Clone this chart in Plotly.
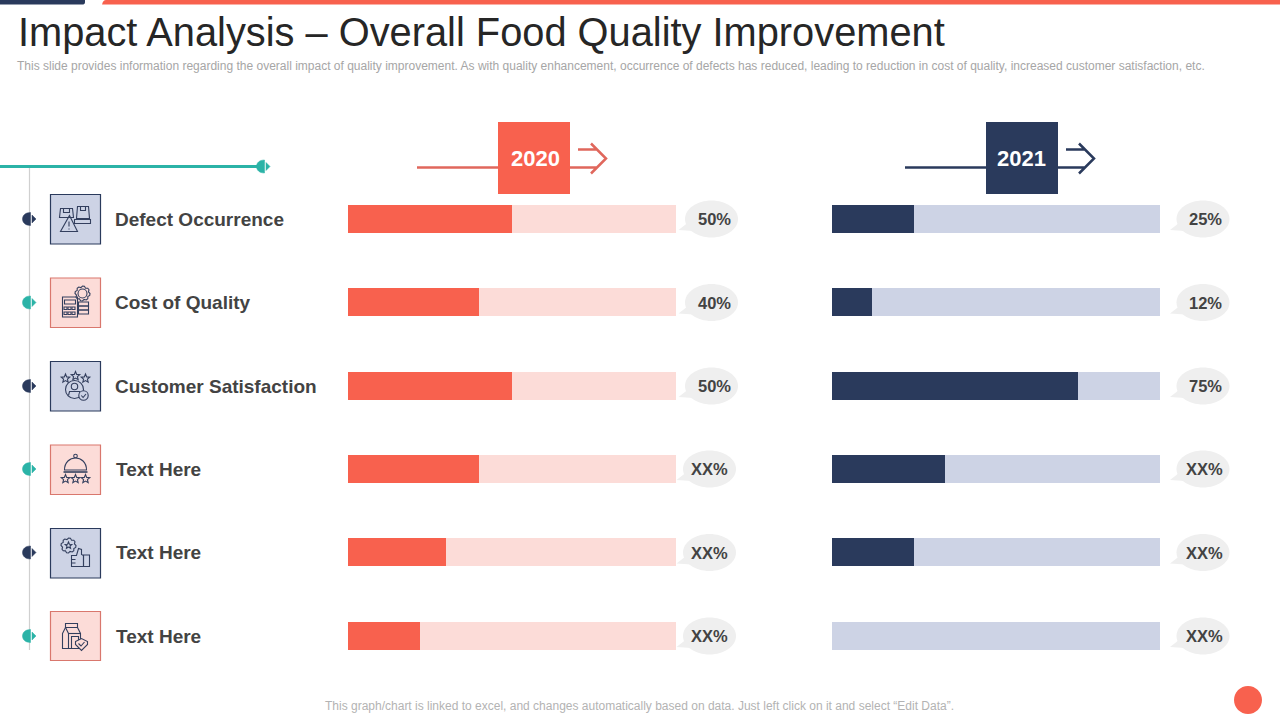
import math

import plotly.graph_objects as go

TITLE = "Impact Analysis – Overall Food Quality Improvement"
SUBTITLE = ("This slide provides information regarding the overall impact of quality improvement. "
            "As with quality enhancement, occurrence of defects has reduced, leading to reduction "
            "in cost of quality, increased customer satisfaction, etc.")
FOOTER = "This graph/chart is linked to excel, and changes automatically based on data. Just left click on it and select “Edit Data”."

categories = ["Defect Occurrence", "Cost of Quality", "Customer Satisfaction", "Text Here", "Text Here", "Text Here"]
rows = [0, 1, 2, 3, 4, 5]
full_scale = [100, 100, 100, 100, 100, 100]
values_2020 = [50, 40, 50, 40, 30, 22]
values_2021 = [25, 12.2, 75, 34.6, 25, 0]
labels_2020 = ["50%", "40%", "50%", "XX%", "XX%", "XX%"]
labels_2021 = ["25%", "12%", "75%", "XX%", "XX%", "XX%"]

CORAL = "#f8614e"
CORAL_PALE = "#fcdcd8"
NAVY = "#2a3a5c"
NAVY_PALE = "#cdd3e5"
TEAL = "#2bb3a7"
TEXT = "#434343"
ICON = "#333f5e"

BAR_HEIGHT = 28 / 83.4
W, H = 1280, 720
shapes = []


def add_path(path, fill="rgba(0,0,0,0)", color=ICON, width=1.1):
    shapes.append(dict(type="path", path=path, xref="x3", yref="y3", fillcolor=fill,
                       line=dict(color=color, width=width)))


def add_rect(x0, y0, x1, y1, fill, color=None, width=0):
    line = dict(color=color, width=width) if color else dict(width=0)
    shapes.append(dict(type="rect", x0=x0, y0=y0, x1=x1, y1=y1, xref="x3", yref="y3",
                       fillcolor=fill, line=line))


def poly(pts, ox=0, oy=0, close=False):
    s = "M" + " L".join(f"{x + ox:.2f},{y + oy:.2f}" for x, y in pts)
    return s + (" Z" if close else "")


def circ(cx, cy, rx, ry=None):
    ry = ry or rx
    k = 0.5523
    return (f"M{cx - rx:.2f},{cy:.2f} "
            f"C{cx - rx:.2f},{cy - k * ry:.2f} {cx - k * rx:.2f},{cy - ry:.2f} {cx:.2f},{cy - ry:.2f} "
            f"C{cx + k * rx:.2f},{cy - ry:.2f} {cx + rx:.2f},{cy - k * ry:.2f} {cx + rx:.2f},{cy:.2f} "
            f"C{cx + rx:.2f},{cy + k * ry:.2f} {cx + k * rx:.2f},{cy + ry:.2f} {cx:.2f},{cy + ry:.2f} "
            f"C{cx - k * rx:.2f},{cy + ry:.2f} {cx - rx:.2f},{cy + k * ry:.2f} {cx - rx:.2f},{cy:.2f} Z")


def star(cx, cy, r):
    pts = []
    for i in range(10):
        a = -math.pi / 2 + i * math.pi / 5
        rr = r if i % 2 == 0 else r * 0.45
        pts.append((cx + rr * math.cos(a), cy + rr * math.sin(a)))
    return poly(pts, close=True)


def gear(cx, cy, r):
    pts = []
    for i in range(24):
        a = i * math.pi / 12
        rr = r if i % 3 != 2 else r * 0.82
        pts.append((cx + rr * math.cos(a), cy + rr * math.sin(a)))
    return poly(pts, close=True)


def marker(cx, cy, color):
    # half disc with the little pointer on its right
    k = 0.5523
    r = 6.5
    add_path(f"M{cx + 1.5},{cy - r} C{cx - k * r},{cy - r} {cx - r},{cy - k * r} {cx - r},{cy} "
             f"C{cx - r},{cy + k * r} {cx - k * r},{cy + r} {cx + 1.5},{cy + r} Z",
             fill=color, color=color, width=0.5)
    add_path(poly([(cx + 3, cy - 4), (cx + 7, cy), (cx + 3, cy + 4)], close=True),
             fill=color, color=color, width=0.5)


def arrow(dx, color):
    add_path(f"M{417 + dx},167.5 L{498 + dx},167.5", color=color, width=2.5)
    add_path(f"M{578 + dx},149.5 L{597 + dx},149.5 M{591 + dx},143.5 L{606 + dx},158.5 L{591 + dx},173.5 "
             f"M{570 + dx},167.5 L{597 + dx},167.5", color=color, width=2.5)


def bubble(cx, cy, fill="#efefef"):
    add_path(poly([(cx - 24, cy + 4), (cx - 33, cy + 11), (cx - 18, cy + 12)], close=True),
             fill=fill, color=fill, width=0)
    add_path(circ(cx, cy, 26.5, 18.5), fill=fill, color=fill, width=0)


def icon_defect(ox, oy):
    add_path(poly([(10, 14), (22, 14), (23, 23), (9, 23)], ox, oy, True))
    add_path(poly([(13, 14), (13, 18), (19, 18), (19, 14)], ox, oy))
    add_path(poly([(27, 12), (38, 12), (39, 24), (26, 24)], ox, oy, True))
    add_path(poly([(30, 12), (30, 16), (35, 16), (35, 12)], ox, oy))
    add_path(poly([(24, 25), (40, 25), (40, 29), (24, 29)], ox, oy, True))
    add_path(poly([(19, 21), (27, 37), (10, 37)], ox, oy, True))
    add_path(poly([(18.5, 27), (18.5, 32)], ox, oy) + " " + poly([(18.5, 34), (18.5, 35)], ox, oy))


def icon_cost(ox, oy):
    add_path(poly([(12, 19), (27, 19), (27, 39), (12, 39)], ox, oy, True))
    add_path(poly([(14, 22), (25, 22), (25, 26), (14, 26)], ox, oy, True))
    for gx in (15, 19, 23):
        for gy in (29, 34):
            add_path(poly([(gx - 1.5, gy), (gx + 1.5, gy), (gx + 1.5, gy + 2.5), (gx - 1.5, gy + 2.5)], ox, oy, True))
    add_path(gear(ox + 32, oy + 15.5, 7.5))
    add_path(circ(ox + 32, oy + 15.5, 4.5))
    for gy in (24, 28, 32):
        add_path(poly([(28, gy), (38, gy), (38, gy + 4), (28, gy + 4)], ox, oy, True))


def icon_customer(ox, oy):
    for sx, sy in ((15, 17), (25, 14.5), (35, 17)):
        add_path(star(ox + sx, oy + sy, 4.5))
    add_path(circ(ox + 24, oy + 28, 9))
    add_path(circ(ox + 24, oy + 25, 3.2))
    add_path(poly([(18, 34), (19, 30), (29, 30), (30, 34)], ox, oy))
    add_path(circ(ox + 33, oy + 34, 4.7), fill=NAVY_PALE)
    add_path(poly([(30.8, 34), (32.6, 36), (35.5, 32.5)], ox, oy))


def icon_cloche(ox, oy):
    add_path(f"M{ox + 14},{oy + 25} C{ox + 14},{oy + 9} {ox + 36},{oy + 9} {ox + 36},{oy + 25} Z")
    add_path(circ(ox + 25, oy + 11, 1.8))
    add_path(poly([(13, 27), (37, 27)], ox, oy), width=1.6)
    for sx in (15, 25, 35):
        add_path(star(ox + sx, oy + 34, 4.5))


def icon_thumb(ox, oy):
    add_path(gear(ox + 18, oy + 17, 7.5))
    add_path(star(ox + 18, oy + 17, 3.5))
    add_path(poly([(21, 27), (26, 27), (28, 20), (31, 21), (31, 26), (33, 27), (33, 38), (21, 38)], ox, oy, True))
    add_path(poly([(21, 31), (25, 31)], ox, oy) + " " + poly([(21, 34.5), (25, 34.5)], ox, oy))
    add_path(poly([(33, 26.5), (39, 26.5), (39, 38), (33, 38)], ox, oy, True))


def icon_carton(ox, oy):
    add_path(poly([(15, 12), (27, 12), (27, 16), (15, 16)], ox, oy, True))
    add_path(poly([(12, 22), (15, 16), (27, 16), (30, 22), (30, 37), (12, 37)], ox, oy, True))
    add_path(poly([(15, 16), (18, 22), (18, 37)], ox, oy))
    add_path(poly([(18, 22), (30, 22)], ox, oy))
    add_path(poly([(21, 25), (28, 25), (28, 37), (21, 37)], ox, oy, True))
    add_path(poly([(25, 30), (31, 27), (37, 30), (37, 33), (31, 39), (25, 33)], ox, oy, True), fill=CORAL_PALE)
    add_path(poly([(28, 32), (30.5, 34.5), (34, 30.5)], ox, oy))


fig = go.Figure()

# bars, drawn on the two value axes
fig.add_trace(go.Bar(x=full_scale, y=rows, orientation="h", width=BAR_HEIGHT, marker_color=CORAL_PALE,
                     marker_line_width=0, xaxis="x", yaxis="y", hoverinfo="skip", showlegend=False))
fig.add_trace(go.Bar(x=values_2020, y=rows, orientation="h", width=BAR_HEIGHT, marker_color=CORAL,
                     marker_line_width=0, xaxis="x", yaxis="y", name="2020", showlegend=False))
fig.add_trace(go.Bar(x=full_scale, y=rows, orientation="h", width=BAR_HEIGHT, marker_color=NAVY_PALE,
                     marker_line_width=0, xaxis="x2", yaxis="y2", hoverinfo="skip", showlegend=False))
fig.add_trace(go.Bar(x=values_2021, y=rows, orientation="h", width=BAR_HEIGHT, marker_color=NAVY,
                     marker_line_width=0, xaxis="x2", yaxis="y2", name="2021", showlegend=False))
# pixel canvas for the slide furniture
fig.add_trace(go.Scatter(x=[0, W], y=[0, H], mode="none", xaxis="x3", yaxis="y3", hoverinfo="skip", showlegend=False))

# slide top bars and corner dot
add_path("M0,0 L85,0 L85,2 C85,4 84,4.5 82,4.5 L0,4.5 Z", fill=NAVY, color=NAVY, width=0)
add_path("M102,4.5 C103,1 104,0 106,0 L1280,0 L1280,4.5 Z", fill=CORAL, color=CORAL, width=0)
add_path(circ(1248, 700, 14), fill=CORAL, color=CORAL, width=0)

# left rail
add_path("M29.5,167 L29.5,650", color="#d0d0d0", width=1.2)
add_path("M0,166.5 L262,166.5", color=TEAL, width=3)
marker(263, 166.5, TEAL)

# year headers
arrow(0, "#e0675c")
arrow(488, NAVY)
add_rect(498, 122, 570, 194, CORAL)
add_rect(986, 122, 1058, 194, NAVY)

row_px = [219, 302.5, 386, 469, 552.5, 636]
box_tops = [194.5, 278, 361.5, 445, 528.5, 611.5]
box_bottoms = [244, 327.5, 411, 494.5, 578, 660.5]
icons = [icon_defect, icon_cost, icon_customer, icon_cloche, icon_thumb, icon_carton]
label_x = [113, 113, 113, 114, 114, 114]
bubble_2020 = [711.5, 711.5, 711.5, 709.5, 709.5, 709.5]
annotations = []


def note(x, y, text, size, color=TEXT, bold=False, anchor="center"):
    annotations.append(dict(x=x, y=y, xref="x3", yref="y3", text=f"<b>{text}</b>" if bold else text, showarrow=False,
                            xanchor=anchor, yanchor="middle", font=dict(size=size, color=color)))


for i, cat in enumerate(categories):
    navy_row = i % 2 == 0
    marker(29, row_px[i], NAVY if navy_row else TEAL)
    add_rect(50.5, box_tops[i], 100.5, box_bottoms[i], NAVY_PALE if navy_row else CORAL_PALE,
             NAVY if navy_row else "#d9776d", 1.2)
    icons[i](50.5, box_tops[i])
    note(label_x[i], row_px[i], cat, 19, bold=True, anchor="left")
    bubble(bubble_2020[i], row_px[i])
    bubble(1203, row_px[i])
    note(bubble_2020[i] + 2.5 if i < 3 else bubble_2020[i], row_px[i], labels_2020[i], 16.5, bold=True)
    note(1205.5 if i < 3 else 1204, row_px[i], labels_2021[i], 16.5, bold=True)

note(535, 158.5, "2020", 22, color="white", bold=True)
note(1021.5, 158.5, "2021", 22, color="white", bold=True)
note(16, 32, TITLE, 39.8, color="#262626", anchor="left")
note(15, 66, SUBTITLE, 12, color="#a6a6a6", anchor="left")
note(639.5, 705.5, FOOTER, 12, color="#b3b3b3")

hidden = dict(visible=False, showgrid=False, zeroline=False, fixedrange=True)
fig.update_layout(
    width=W, height=H, margin=dict(l=0, r=0, t=0, b=0), autosize=False,
    paper_bgcolor="white", plot_bgcolor="rgba(0,0,0,0)",
    barmode="overlay", bargap=0,
    font=dict(family="Liberation Sans, Arial, sans-serif"),
    xaxis=dict(domain=[348 / W, 676 / W], range=[0, 100], anchor="y", **hidden),
    xaxis2=dict(domain=[832 / W, 1160 / W], range=[0, 100], anchor="y2", **hidden),
    xaxis3=dict(domain=[0, 1], range=[0, W], anchor="y3", **hidden),
    yaxis=dict(domain=[1 - 677.7 / H, 1 - 177.3 / H], range=[5.5, -0.5], anchor="x", **hidden),
    yaxis2=dict(domain=[1 - 677.7 / H, 1 - 177.3 / H], range=[5.5, -0.5], anchor="x2", **hidden),
    yaxis3=dict(domain=[0, 1], range=[H, 0], anchor="x3", **hidden),
    shapes=shapes, annotations=annotations,
)

fig.write_html("out.html", config=dict(displayModeBar=False),
               post_script="document.body.style.margin='0';")
